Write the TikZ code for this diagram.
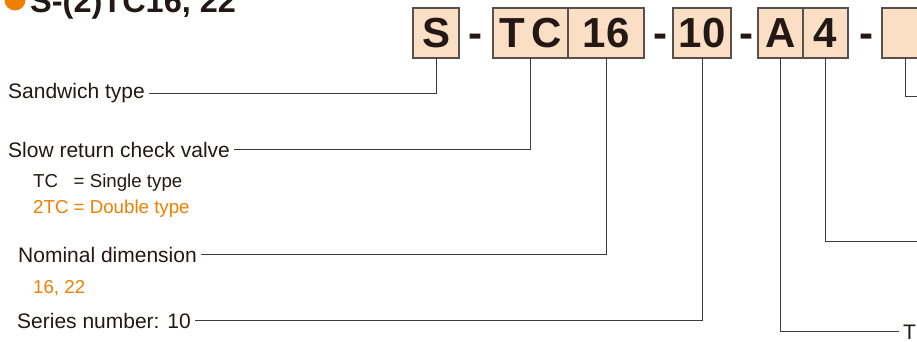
\documentclass[tikz,border=0pt]{standalone}
\usepackage{fontspec}
\setmainfont{Liberation Sans}
\usetikzlibrary{positioning}
\definecolor{ink}{HTML}{231815}
\definecolor{orng}{HTML}{EE7F00}
\definecolor{peach}{HTML}{FBDFC4}
\definecolor{frame}{HTML}{5A4F4C}
\definecolor{leader}{HTML}{3E3A39}

\begin{document}
\begin{tikzpicture}[x=1pt,y=-1pt,
  cell/.style={draw=frame,fill=peach,line width=1.4pt,minimum height=50pt,inner sep=0pt,outer sep=0pt,
    font=\fontsize{42}{42}\selectfont\bfseries,text=ink},
  hyph/.style={anchor=base,inner sep=0pt,font=\fontsize{42}{42}\selectfont\bfseries,text=ink},
  lbl/.style={anchor=base west,inner xsep=4pt,inner ysep=0pt,font=\fontsize{21}{25}\selectfont,text=ink},
  sub/.style={anchor=base west,inner sep=0pt,font=\fontsize{18.7}{22}\selectfont,text=ink},
  ld/.style={draw=leader,line width=1pt}]

\useasboundingbox (0,0) rectangle (917,342);
\clip (0,0) rectangle (917,342);
\fill[white] (0,0) rectangle (917,342);

% heading
\node[circle,fill=orng,minimum size=21pt,inner sep=0pt] (dot) at (15,0) {};
\node[anchor=base west,inner sep=0pt,font=\fontsize{32.5}{33}\selectfont\bfseries,text=ink] (title) at (30,13) {S-(2)TC16, 22};

% code boxes
\node[cell,minimum width=46pt] (bS) at (436,33) {S};
\node[hyph] (d1) at (475,48) {-};
\node[cell,minimum width=75pt] (bTC) at (530.5,33) {T\kern6pt C};
\node[cell,minimum width=76pt,right=0pt of bTC] (b16) {16};
\node[hyph] (d2) at (660,48) {-};
\node[cell,minimum width=58pt] (b10) at (702,33) {10};
\node[hyph] (d3) at (746,48) {-};
\node[cell,minimum width=45pt] (bA) at (780.5,33) {A};
\node[cell,minimum width=45pt,right=0pt of bA] (b4) {4};
\node[hyph] (d4) at (866,48) {-};
\node[cell,minimum width=46pt] (bX) at (905,33) {};

% labels
\node[lbl] (lSand) at (4,99) {Sandwich type};
\node[lbl] (lSlow) at (4,157) {Slow return check valve};
\node[sub] (tSingle) at (33,187) {TC\hphantom{2} = Single type};
\node[sub,text=orng] (tDouble) at (33,213) {2TC = Double type};
\node[lbl] (lNom) at (14,262) {Nominal dimension};
\node[sub,text=orng] (tSizes) at (33,293) {16, 22};
\node[lbl] (lSer) at (13,328) {Series number: 10};
\node[lbl] (lThr) at (899,339) {Th};
\coordinate (e4) at (920,241);
\coordinate (eX) at (920,97);

% leaders
\draw[ld] (bS.south) |- (lSand.east);
\draw[ld] (bTC.south) |- (lSlow.east);
\draw[ld] (b16.south) |- (lNom.east);
\draw[ld] (b10.south) |- (lSer.east);
\draw[ld] (bA.south) |- (lThr.west);
\draw[ld] (b4.south) |- (e4);
\draw[ld] (bX.south) |- (eX);
\end{tikzpicture}
\end{document}
